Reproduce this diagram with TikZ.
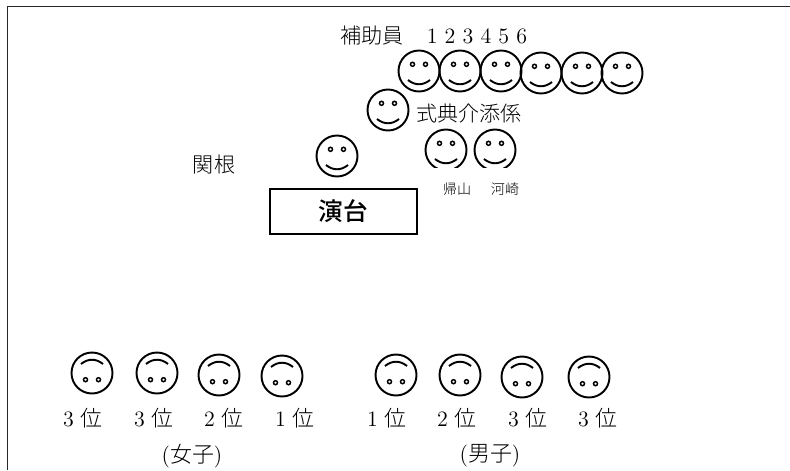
\documentclass[tikz,border=0pt]{standalone}
\usepackage{fontspec}
\newfontfamily\jplight[UprightFont=* Light]{Noto Sans CJK JP}
\newfontfamily\jpbold[UprightFont=* Medium]{Noto Sans CJK JP}
\usetikzlibrary{positioning}
\tikzset{
  facering/.style={line width=1.1pt},
  label12/.style={inner sep=0pt, font=\fontsize{12}{14}\selectfont\jplight},
  labelsmall/.style={inner sep=0pt, font=\fontsize{8}{10}\selectfont\jplight},
  labelrank/.style={inner sep=0pt, font=\fontsize{12.5}{14}\selectfont},
  audience/.style={rotate=180},
  pics/face/.style={code={
    \draw[facering] (0, 0) circle (20.5);
    \draw[line width=0.85pt] (-6.5, -6.7) circle (2);
    \draw[line width=0.85pt] (6.5, -6.7) circle (2);
    \draw[line width=1.1pt] (-11, 9) .. controls (-4, 14.7) and (4, 14.7) .. (11, 9);
  }}
}
\begin{document}
\begin{tikzpicture}[x=0.02cm, y=-0.02cm]
        \useasboundingbox (0, 0) rectangle (790, 470);
        \draw[line width=1.1pt, black!85] (790, 6.5) -- (7.5, 6.5) -- (7.5, 470);

        \node[label12] (helper) at (372, 36){補助員};
        \node[labelrank] (numbers) at (477, 36){1 2 3 4 5 6};
        \pic (helper1) at (419, 71) {face};
        \pic (helper2) at (460, 71) {face};
        \pic (helper3) at (501, 71) {face};
        \pic (helper4) at (541, 73) {face};
        \pic (helper5) at (582, 73) {face};
        \pic (helper6) at (622, 73) {face};

        \pic (ceremony) at (388, 110) {face};
        \node[label12] (ceremonylabel) at (469, 113){式典介添係};

        \pic (sekine) at (337, 156) {face};
        \node[label12] (sekinelabel) at (214, 165){関根};

        \begin{scope}
          \clip (420, 120) rectangle (520, 167);
          \pic (kaeriyama) at (446, 150) {face};
          \pic (kawasaki) at (495, 150) {face};
        \end{scope}
        \node[labelsmall] (kaeriyamalabel) at (457, 189){帰山};
        \node[labelsmall] (kawasakilabel) at (505, 189){河崎};

        \node[draw, line width=1.1pt, minimum width=147*0.02cm, minimum height=45*0.02cm, inner sep=0pt, font=\fontsize{14}{16}\selectfont\jpbold] (podium) at (343.5, 211.5){\raisebox{-0.6pt}{演台}};

        \pic[audience] (girl1) at (92, 373) {face};
        \pic[audience] (girl2) at (157, 373) {face};
        \pic[audience] (girl3) at (219, 375) {face};
        \pic[audience] (girl4) at (282, 376) {face};
        \pic[audience] (boy1) at (396, 375) {face};
        \pic[audience] (boy2) at (460, 375) {face};
        \pic[audience] (boy3) at (522, 377) {face};
        \pic[audience] (boy4) at (589, 377) {face};

        \node[labelrank] (girlrank1) at (83, 418){3 {\jplight 位}};
        \node[labelrank] (girlrank2) at (154, 418){3 {\jplight 位}};
        \node[labelrank] (girlrank3) at (224, 418){2 {\jplight 位}};
        \node[labelrank] (girlrank4) at (295, 418){1 {\jplight 位}};
        \node[labelrank] (boyrank1) at (387, 418){1 {\jplight 位}};
        \node[labelrank] (boyrank2) at (457, 418){2 {\jplight 位}};
        \node[labelrank] (boyrank3) at (528, 418){3 {\jplight 位}};
        \node[labelrank] (boyrank4) at (598, 418){3 {\jplight 位}};

        \node[labelrank] (girls) at (192, 456){({\jplight 女子})};
        \node[labelrank] (boys) at (490, 456){({\jplight 男子})};
      \end{tikzpicture}
\end{document}
